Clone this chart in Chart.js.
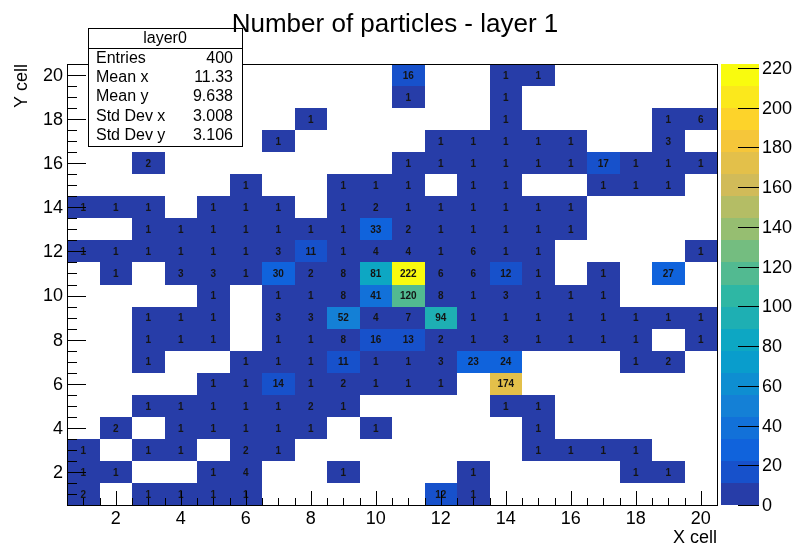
<!DOCTYPE html>
<html>
<head>
<meta charset="utf-8">
<script src="https://cdn.jsdelivr.net/npm/chart.js@4.4.1/dist/chart.umd.min.js"></script>
<style>
  html, body { margin: 0; padding: 0; background: #ffffff; }
  #wrap { width: 794px; height: 544px; }
</style>
</head>
<body>
<div id="wrap"><canvas id="c" width="794" height="544"></canvas></div>
<script>
// Bin centres of the 20 x 20 grid
const xCells = [1, 2, 3, 4, 5, 6, 7, 8, 9, 10, 11, 12, 13, 14, 15, 16, 17, 18, 19, 20];
const yRows  = [20, 19, 18, 17, 16, 15, 14, 13, 12, 11, 10, 9, 8, 7, 6, 5, 4, 3, 2, 1];

// Particle counts, one array per Y row (top row first), columns X = 1..20
const counts = [
  [0,0,0,0,0,0,0,0,0,0,16,0,0,1,1,0,0,0,0,0],
  [0,0,0,0,0,0,0,0,0,0,1,0,0,1,0,0,0,0,0,0],
  [0,0,0,0,0,0,0,1,0,0,0,0,0,1,0,0,0,0,1,6],
  [0,0,0,0,0,0,1,0,0,0,0,1,1,1,1,1,0,0,3,0],
  [0,0,2,0,0,0,0,0,0,0,1,1,1,1,1,1,17,1,1,1],
  [0,0,0,0,0,1,0,0,1,1,1,0,1,1,0,0,1,1,1,0],
  [1,1,1,0,1,1,1,0,1,2,1,1,1,1,1,1,0,0,0,0],
  [0,0,1,1,1,1,1,1,1,33,2,1,1,1,1,1,0,0,0,0],
  [1,1,1,1,1,1,3,11,1,4,4,1,6,1,1,0,0,0,0,1],
  [0,1,0,3,3,1,30,2,8,81,222,6,6,12,1,0,1,0,27,0],
  [0,0,0,0,1,0,1,1,8,41,120,8,1,3,1,1,1,0,0,0],
  [0,0,1,1,1,0,3,3,52,4,7,94,1,1,1,1,1,1,1,1],
  [0,0,1,1,1,0,1,1,8,16,13,2,1,3,1,1,1,1,0,1],
  [0,0,1,0,0,1,1,1,11,1,1,3,23,24,0,0,0,1,2,0],
  [0,0,0,0,1,1,14,1,2,1,1,1,0,174,0,0,0,0,0,0],
  [0,0,1,1,1,1,1,2,1,0,0,0,0,1,1,0,0,0,0,0],
  [0,2,0,1,1,1,1,1,0,1,0,0,0,0,1,0,0,0,0,0],
  [1,0,1,1,0,2,1,0,0,0,0,0,0,0,1,1,1,1,0,0],
  [1,1,0,0,1,4,0,0,1,0,0,0,1,0,0,0,0,1,1,0],
  [2,0,1,1,1,1,0,0,0,0,0,12,1,0,0,0,0,0,0,0]
];

const xTicks = [2, 4, 6, 8, 10, 12, 14, 16, 18, 20];
const yTicks = [2, 4, 6, 8, 10, 12, 14, 16, 18, 20];
const zTicks = [0, 20, 40, 60, 80, 100, 120, 140, 160, 180, 200, 220];

const titleText = 'Number of particles - layer 1';
const xTitle = 'X cell';
const yTitle = 'Y cell';
const statsName = 'layer0';
const statsLabels = ['Entries', 'Mean x', 'Mean y', 'Std Dev x', 'Std Dev y'];
const statsValues = ['400', '11.33', '9.638', '3.008', '3.106'];

// Non-empty bins as points
const cells = [];
yRows.forEach((yv, r) => {
  xCells.forEach((xv, c) => {
    const v = counts[r][c];
    if (v > 0) cells.push({ x: xv, y: yv, v: v });
  });
});
const zMax = Math.max(...cells.map(p => p.v));
const nLevels = 20;

// "Bird" colour palette
const birdStops = [0.0, 0.125, 0.25, 0.375, 0.5, 0.625, 0.75, 0.875, 1.0];
const birdR = [0.2082, 0.0592, 0.0780, 0.0232, 0.1802, 0.5301, 0.8186, 0.9956, 0.9764];
const birdG = [0.1664, 0.3599, 0.5041, 0.6419, 0.7178, 0.7492, 0.7328, 0.7862, 0.9832];
const birdB = [0.5293, 0.8684, 0.8385, 0.7914, 0.6425, 0.4662, 0.3499, 0.1968, 0.0539];

function bird(t) {
  t = Math.max(0, Math.min(1, t));
  let i = 0;
  while (i < birdStops.length - 2 && t > birdStops[i + 1]) i++;
  const f = (t - birdStops[i]) / (birdStops[i + 1] - birdStops[i]);
  const ch = a => Math.round(255 * (a[i] + (a[i + 1] - a[i]) * f));
  return `rgb(${ch(birdR)},${ch(birdG)},${ch(birdB)})`;
}
function levelOf(v) {
  return Math.min(nLevels - 1, Math.floor(0.01 + v * nLevels / zMax));
}
function levelColor(k) {
  const ci = Math.floor((k + 0.99) * 255 / nLevels);
  return bird(ci / 254);
}

const FONT = '"Liberation Sans", Arial, Helvetica, sans-serif';

const th2Plugin = {
  id: 'th2colz',
  beforeDatasetsDraw(chart) {
    const ctx = chart.ctx;
    const xs = chart.scales.x, ys = chart.scales.y;
    ctx.save();
    // filled bins
    cells.forEach(p => {
      const x0 = Math.round(xs.getPixelForValue(p.x - 0.5));
      const x1 = Math.round(xs.getPixelForValue(p.x + 0.5));
      const y0 = Math.round(ys.getPixelForValue(p.y + 0.5));
      const y1 = Math.round(ys.getPixelForValue(p.y - 0.5));
      ctx.fillStyle = levelColor(levelOf(p.v));
      ctx.fillRect(x0, y0, x1 - x0, y1 - y0);
    });
    // bin contents
    ctx.fillStyle = '#141414';
    ctx.font = 'bold 10px ' + FONT;
    ctx.textAlign = 'center';
    ctx.textBaseline = 'middle';
    cells.forEach(p => {
      ctx.fillText(String(p.v), xs.getPixelForValue(p.x), ys.getPixelForValue(p.y) + 1);
    });
    ctx.restore();
  },
  afterDraw(chart) {
    const ctx = chart.ctx;
    const a = chart.chartArea;
    const xs = chart.scales.x, ys = chart.scales.y, zs = chart.scales.z;
    ctx.save();

    // frame
    ctx.strokeStyle = '#000';
    ctx.lineWidth = 1;
    ctx.strokeRect(Math.round(a.left) + 0.5, Math.round(a.top) + 0.5,
                   Math.round(a.right - a.left), Math.round(a.bottom - a.top));

    // axis ticks (inward), major every 2, minor every 0.5
    ctx.beginPath();
    for (let v = 1; v < 20.5; v += 0.5) {
      const major = xTicks.includes(v);
      const px = Math.round(xs.getPixelForValue(v)) + 0.5;
      ctx.moveTo(px, a.bottom);
      ctx.lineTo(px, a.bottom - (major ? 14 : 7));
      const py = Math.round(ys.getPixelForValue(v)) + 0.5;
      const majorY = yTicks.includes(v);
      ctx.moveTo(a.left, py);
      ctx.lineTo(a.left + (majorY ? 19 : 10), py);
    }
    ctx.stroke();

    // tick labels
    ctx.fillStyle = '#000';
    ctx.font = '18px ' + FONT;
    ctx.textAlign = 'center';
    ctx.textBaseline = 'alphabetic';
    xTicks.forEach(v => ctx.fillText(String(v), xs.getPixelForValue(v), a.bottom + 19));
    ctx.textAlign = 'right';
    ctx.textBaseline = 'middle';
    yTicks.forEach(v => ctx.fillText(String(v), a.left - 4, ys.getPixelForValue(v) + 1));

    // axis titles
    ctx.textAlign = 'right';
    ctx.textBaseline = 'alphabetic';
    ctx.fillText(xTitle, a.right, 543);
    ctx.save();
    ctx.translate(27, a.top);
    ctx.rotate(-Math.PI / 2);
    ctx.textAlign = 'right';
    ctx.fillText(yTitle, 0, 0);
    ctx.restore();

    // colour scale
    const cbL = 721, cbR = 759;
    for (let k = 0; k < nLevels; k++) {
      const yb = Math.round(zs.getPixelForValue(k * zMax / nLevels));
      const yt = Math.round(zs.getPixelForValue((k + 1) * zMax / nLevels));
      ctx.fillStyle = levelColor(k);
      ctx.fillRect(cbL, yt, cbR - cbL, yb - yt);
    }
    ctx.strokeStyle = '#000';
    ctx.beginPath();
    zTicks.forEach(v => {
      const py = Math.round(zs.getPixelForValue(v)) + 0.5;
      ctx.moveTo(cbR, py);
      ctx.lineTo(cbR - 21, py);
    });
    ctx.stroke();
    ctx.fillStyle = '#000';
    ctx.textAlign = 'left';
    ctx.textBaseline = 'middle';
    zTicks.forEach(v => ctx.fillText(String(v), cbR + 3, zs.getPixelForValue(v) + 1));

    // statistics box
    const bx = 88, by = 28, bw = 154, bh = 118;
    ctx.fillStyle = '#fff';
    ctx.fillRect(bx, by, bw, bh);
    ctx.strokeStyle = '#000';
    ctx.strokeRect(bx + 0.5, by + 0.5, bw, bh);
    ctx.beginPath();
    ctx.moveTo(bx, by + 20.5);
    ctx.lineTo(bx + bw, by + 20.5);
    ctx.stroke();
    ctx.fillStyle = '#000';
    ctx.font = '16px ' + FONT;
    ctx.textBaseline = 'alphabetic';
    ctx.textAlign = 'center';
    ctx.fillText(statsName, bx + bw / 2, by + 15);
    const rowsY = [63, 82, 101, 121, 140];
    statsLabels.forEach((t, i) => {
      ctx.textAlign = 'left';
      ctx.fillText(t, bx + 8, rowsY[i]);
      ctx.textAlign = 'right';
      ctx.fillText(statsValues[i], bx + bw - 9, rowsY[i]);
    });

    // title
    ctx.font = '26px ' + FONT;
    ctx.textAlign = 'center';
    ctx.fillText(titleText, 395, 32);

    ctx.restore();
  }
};

new Chart(document.getElementById('c').getContext('2d'), {
  type: 'scatter',
  data: {
    datasets: [{
      label: statsName,
      data: cells,
      pointRadius: 0,
      pointHoverRadius: 0,
      showLine: false
    }]
  },
  options: {
    responsive: false,
    animation: false,
    devicePixelRatio: 1,
    events: [],
    layout: { padding: { left: 67, top: 64, right: 77, bottom: 39 } },
    plugins: {
      legend: { display: false },
      tooltip: { enabled: false },
      title: { display: false }
    },
    scales: {
      x: { type: 'linear', min: 0.5, max: 20.5, display: false },
      y: { type: 'linear', min: 0.5, max: 20.5, display: false },
      z: { type: 'linear', axis: 'y', position: 'right', min: 0, max: zMax, display: false }
    }
  },
  plugins: [th2Plugin]
});
</script>
</body>
</html>
